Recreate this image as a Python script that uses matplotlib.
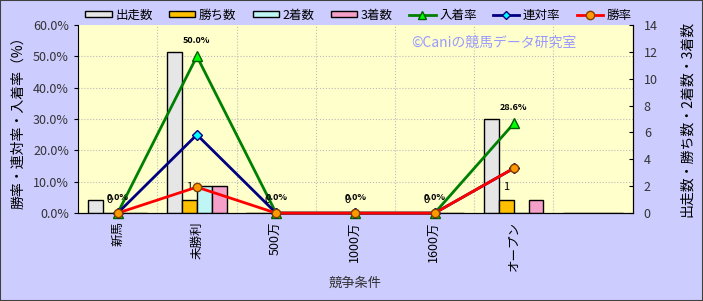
import numpy as np
import matplotlib.pyplot as plt
from matplotlib.patches import Rectangle
from matplotlib.lines import Line2D

plt.rcParams['font.family'] = ['Noto Sans CJK JP', 'DejaVu Sans']

# 競争条件ごとのデータ
categories = ['新馬', '未勝利', '500万', '1000万', '1600万', 'オープン', '']
starts = [1, 12, 0, 0, 0, 7, 0]        # 出走数
wins = [0, 1, 0, 0, 0, 1, 0]          # 勝ち数
seconds = [0, 2, 0, 0, 0, 0, 0]       # 2着数
thirds = [0, 2, 0, 0, 0, 1, 0]        # 3着数
place_rate = [0.0, 50.0, 0.0, 0.0, 0.0, 28.6]   # 入着率
quinella_rate = [0.0, 25.0, 0.0, 0.0, 0.0, 14.3]  # 連対率
win_rate = [0.0, 8.3, 0.0, 0.0, 0.0, 14.3]      # 勝率

bg = '#CCCCFF'
fig = plt.figure(figsize=(7.03, 3.01), dpi=100, facecolor=bg)
fig.patches.append(Rectangle((0, 0), 1, 1, transform=fig.transFigure, fill=False,
                             edgecolor='#404040', linewidth=1.5))

# 棒グラフ側（右軸）
ax = fig.add_axes([0.111, 0.292, 0.789, 0.625])
ax.set_facecolor('#FFFFCC')
ax2 = ax.twinx()

x = np.arange(len(categories))
w = 0.187
bar_cols = ['#E6E6E6', '#FFC000', '#BFF5F5', '#F4A0C8']
bar_data = [starts, wins, seconds, thirds]
for i, (vals, col) in enumerate(zip(bar_data, bar_cols)):
    ax.bar(x + (i - 1.5) * w, vals, w, color=col, edgecolor='black', linewidth=1, zorder=3)

# 勝ち数のラベル
for xi, v in zip(x[:6], wins[:6]):
    ax.text(xi - 0.55 * w, v + 0.6, str(v), ha='center', va='bottom', fontsize=8, zorder=6)

ax.set_xlim(-0.5, len(categories) - 0.5)
ax.set_ylim(0, 14)
ax.set_yticks(np.arange(0, 15, 2))
ax.yaxis.tick_right()
ax.yaxis.set_label_position('right')
ax.tick_params(axis='y', labelsize=9, labelcolor='#333333', length=3, direction='in', pad=8)
ax.set_xticks(x)
ax.set_xticklabels(categories, rotation=90, fontsize=9)
ax.tick_params(axis='x', length=0, pad=6)
for k in range(1, 6):
    ax.axhline(14 * k / 6, color='#BBBBBB', linestyle=':', linewidth=0.8, zorder=1)
for k in range(len(categories) - 1):
    ax.axvline(k + 0.5, color='#BBBBBB', linestyle=':', linewidth=0.8, zorder=1)
ax.spines['top'].set_visible(False)
ax.spines['left'].set_visible(False)
ax.set_ylabel('出走数・勝ち数・2着数・3着数', fontsize=10, rotation=90, labelpad=16)
ax.set_xlabel('競争条件', fontsize=9.5, color='#333333', labelpad=4)

# 折れ線グラフ側（左軸）
ax2.set_ylim(0, 60)
ax2.yaxis.tick_left()
ax2.yaxis.set_label_position('left')
ax2.set_yticks(np.arange(0, 61, 10))
ax2.set_yticklabels(['%.1f%%' % v for v in np.arange(0, 61, 10)])
ax2.tick_params(axis='y', labelsize=9, labelcolor='#333333', length=3)
ax2.spines['top'].set_visible(False)
ax2.set_ylabel('勝率・連対率・入着率（%）', fontsize=10, labelpad=6)

xl = x[:6]
ax2.plot(xl, place_rate, color='#008000', linewidth=2, marker='^', markersize=7,
         markerfacecolor='#00FF00', markeredgecolor='#006000', zorder=4, clip_on=False)
ax2.plot(xl, quinella_rate, color='#000080', linewidth=2, marker='D', markersize=5,
         markerfacecolor='#00FFFF', markeredgecolor='#000080', zorder=5, clip_on=False)
ax2.plot(xl, win_rate, color='#FF0000', linewidth=2, marker='o', markersize=6,
         markerfacecolor='#FF9900', markeredgecolor='#804000', zorder=6, clip_on=False)
for xi, v in zip(xl, place_rate):
    ax2.text(xi, v + 3.5, '%.1f%%' % v, ha='center', va='bottom', fontsize=6.5,
             fontweight='bold', zorder=7)

ax2.text(0.75, 0.905, '©Caniの競馬データ研究室', transform=ax.transAxes, ha='center',
         va='center', color='#9999FF', fontsize=10)

handles = [Rectangle((0, 0), 1, 1, facecolor=c, edgecolor='black') for c in bar_cols]
handles += [
    Line2D([], [], color='#008000', linewidth=2, marker='^', markersize=6,
           markerfacecolor='#00FF00', markeredgecolor='#006000'),
    Line2D([], [], color='#000080', linewidth=2, marker='D', markersize=4,
           markerfacecolor='#00FFFF', markeredgecolor='#000080'),
    Line2D([], [], color='#FF0000', linewidth=2, marker='o', markersize=6,
           markerfacecolor='#FF9900', markeredgecolor='#804000'),
]
labels = ['出走数', '勝ち数', '2着数', '3着数', '入着率', '連対率', '勝率']
fig.legend(handles, labels, loc='center', bbox_to_anchor=(0.51, 0.95), ncol=7,
           frameon=False, fontsize=9, handlelength=2.1, handleheight=0.45,
           columnspacing=1.3, handletextpad=0.3)

plt.savefig('out.png', dpi=100, facecolor=bg)
